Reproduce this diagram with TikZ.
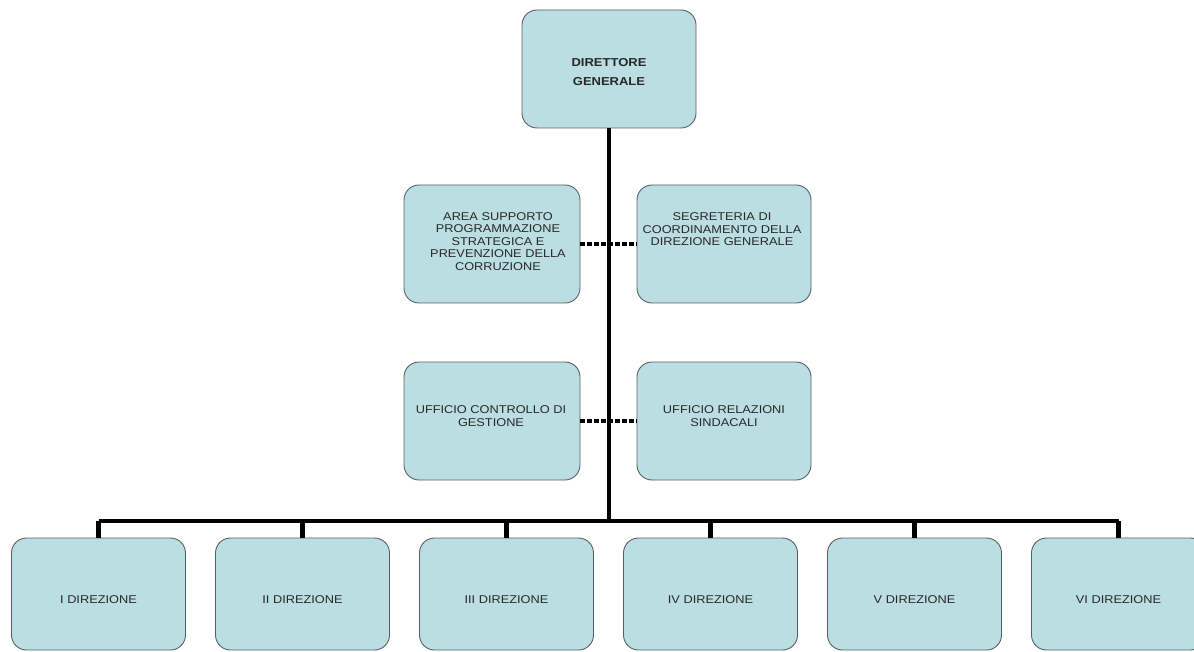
\documentclass[tikz,border=0pt]{standalone}
\usepackage{fontspec}
\setmainfont[FakeStretch=1.13]{Liberation Sans}
\definecolor{boxfill}{RGB}{187,222,226}
\definecolor{boxline}{RGB}{85,95,98}
\definecolor{textcol}{RGB}{40,40,40}
\tikzset{
  unit/.style={draw=boxline, line width=0.9pt, fill=boxfill, rounded corners=15pt,
               minimum width=#1, inner sep=0pt},
  unit/.default=175pt,
  label/.style={text=textcol, align=center, inner sep=0pt,
                font=\fontsize{11.3}{12.4}\selectfont},
  head/.style={label, font=\bfseries\fontsize{11.5}{18.5}\selectfont},
  trunk/.style={line width=4.5pt, black},
  staff/.style={line width=4pt, black, dash pattern=on 4.5pt off 2.5pt},
}
\begin{document}
\begin{tikzpicture}[x=1pt, y=-1pt]
\useasboundingbox (0,0) rectangle (1194,652);
\clip (0,0) rectangle (1194,652);

% top of the chart
\node[unit=174pt, minimum height=118pt] (dg) at (609,69) {};
\node[head] (dgt) at (609,72) {DIRETTORE\\GENERALE};

% staff offices
\node[unit=176pt, minimum height=118pt] (area) at (492,244) {};
\node[label] (areat) at (498,241.5) {AREA SUPPORTO\\PROGRAMMAZIONE\\STRATEGICA E\\PREVENZIONE DELLA\\CORRUZIONE};
\node[unit=174pt, minimum height=118pt] (seg) at (724,244) {};
\node[label] (segt) at (722,229.3) {SEGRETERIA DI\\COORDINAMENTO DELLA\\DIREZIONE GENERALE};

\node[unit=176pt, minimum height=118pt] (ucg) at (492,421) {};
\node[label] (ucgt) at (491,416) {UFFICIO CONTROLLO DI\\GESTIONE};
\node[unit=174pt, minimum height=118pt] (urs) at (724,421) {};
\node[label] (urst) at (724,416) {UFFICIO RELAZIONI\\SINDACALI};

% dotted staff links
\draw[staff] (area.east) -- (seg.west);
\draw[staff] (ucg.east) -- (urs.west);

% directorates
\foreach \n/\t [count=\k from 0] in {d1/I DIREZIONE, d2/II DIREZIONE, d3/III DIREZIONE,
                                     d4/IV DIREZIONE, d5/V DIREZIONE, d6/VI DIREZIONE} {
  \node[unit=174pt, minimum height=112pt] (\n) at (98.5+204*\k,594) {};
  \node[label] (\n t) at (98.5+204*\k,600) {\t};
}

% hierarchy lines
\coordinate (hub) at (609,521);
\draw[trunk] (dg.south) -- (hub);
\draw[trunk] (d1.north |- hub) -- (d6.north |- hub);
\foreach \n in {d1,d2,d3,d4,d5,d6}
  \draw[trunk] (\n.north |- hub) -- (\n.north);
\end{tikzpicture}
\end{document}
